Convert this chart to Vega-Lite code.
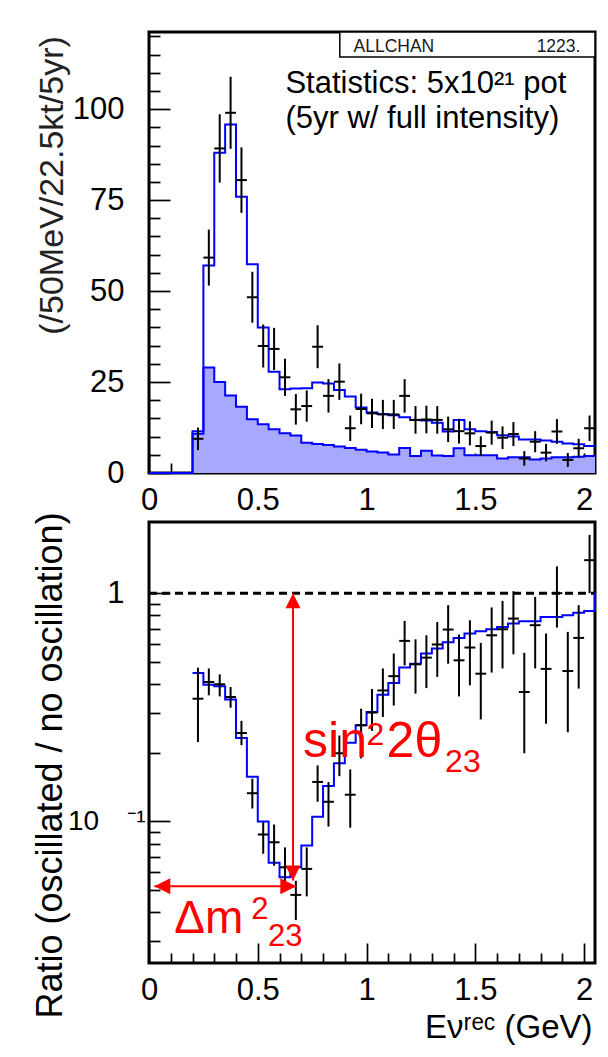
{
  "$schema": "https://vega.github.io/schema/vega-lite/v6.json",
  "background": "white",
  "padding": {"left": 30, "top": 18, "right": 12, "bottom": 5},
  "spacing": 49,
  "bounds": "flush",
  "config": {
    "font": "Liberation Sans",
    "view": {"stroke": "black", "strokeWidth": 3},
    "axis": {"grid": false, "domain": false, "tickColor": "black", "tickWidth": 1.7, "labelFont": "Liberation Sans", "labelFontSize": 31, "labelColor": "black", "labelFlush": false, "labelOverlap": false, "labelBound": false, "titleFont": "Liberation Sans", "titleFontWeight": "normal", "titleColor": "black"},
    "text": {"font": "Liberation Sans"}
  },
  "datasets": {
    "top": [
      {"x0": 0.2, "x1": 0.25, "xc": 0.225, "obs": 9.4, "lo": 6.3, "hi": 12.5},
      {"x0": 0.25, "x1": 0.3, "xc": 0.275, "obs": 59.2, "lo": 51.5, "hi": 66.9},
      {"x0": 0.3, "x1": 0.35, "xc": 0.325, "obs": 89.2, "lo": 79.8, "hi": 98.6},
      {"x0": 0.35, "x1": 0.4, "xc": 0.375, "obs": 99.0, "lo": 89.1, "hi": 108.9},
      {"x0": 0.4, "x1": 0.45, "xc": 0.425, "obs": 80.5, "lo": 71.5, "hi": 89.5},
      {"x0": 0.45, "x1": 0.5, "xc": 0.475, "obs": 48.3, "lo": 41.3, "hi": 55.3},
      {"x0": 0.5, "x1": 0.55, "xc": 0.525, "obs": 34.9, "lo": 29.0, "hi": 40.8},
      {"x0": 0.55, "x1": 0.6, "xc": 0.575, "obs": 34.1, "lo": 28.3, "hi": 39.9},
      {"x0": 0.6, "x1": 0.65, "xc": 0.625, "obs": 26.3, "lo": 21.2, "hi": 31.4},
      {"x0": 0.65, "x1": 0.7, "xc": 0.675, "obs": 17.5, "lo": 13.3, "hi": 21.7},
      {"x0": 0.7, "x1": 0.75, "xc": 0.725, "obs": 18.4, "lo": 14.1, "hi": 22.7},
      {"x0": 0.75, "x1": 0.8, "xc": 0.775, "obs": 34.7, "lo": 28.8, "hi": 40.6},
      {"x0": 0.8, "x1": 0.85, "xc": 0.825, "obs": 21.2, "lo": 16.6, "hi": 25.8},
      {"x0": 0.85, "x1": 0.9, "xc": 0.875, "obs": 25.1, "lo": 20.1, "hi": 30.1},
      {"x0": 0.9, "x1": 0.95, "xc": 0.925, "obs": 12.3, "lo": 8.8, "hi": 15.8},
      {"x0": 0.95, "x1": 1.0, "xc": 0.975, "obs": 17.6, "lo": 13.4, "hi": 21.8},
      {"x0": 1.0, "x1": 1.05, "xc": 1.025, "obs": 16.4, "lo": 12.4, "hi": 20.4},
      {"x0": 1.05, "x1": 1.1, "xc": 1.075, "obs": 16.1, "lo": 12.1, "hi": 20.1},
      {"x0": 1.1, "x1": 1.15, "xc": 1.125, "obs": 16.1, "lo": 12.1, "hi": 20.1},
      {"x0": 1.15, "x1": 1.2, "xc": 1.175, "obs": 21.2, "lo": 16.6, "hi": 25.8},
      {"x0": 1.2, "x1": 1.25, "xc": 1.225, "obs": 14.6, "lo": 10.8, "hi": 18.4},
      {"x0": 1.25, "x1": 1.3, "xc": 1.275, "obs": 14.7, "lo": 10.9, "hi": 18.5},
      {"x0": 1.3, "x1": 1.35, "xc": 1.325, "obs": 14.6, "lo": 10.8, "hi": 18.4},
      {"x0": 1.35, "x1": 1.4, "xc": 1.375, "obs": 12.0, "lo": 8.5, "hi": 15.5},
      {"x0": 1.4, "x1": 1.45, "xc": 1.425, "obs": 11.5, "lo": 8.1, "hi": 14.9},
      {"x0": 1.45, "x1": 1.5, "xc": 1.475, "obs": 10.9, "lo": 7.6, "hi": 14.2},
      {"x0": 1.5, "x1": 1.55, "xc": 1.525, "obs": 7.4, "lo": 4.7, "hi": 10.1},
      {"x0": 1.55, "x1": 1.6, "xc": 1.575, "obs": 11.1, "lo": 7.8, "hi": 14.4},
      {"x0": 1.6, "x1": 1.65, "xc": 1.625, "obs": 9.7, "lo": 6.6, "hi": 12.8},
      {"x0": 1.65, "x1": 1.7, "xc": 1.675, "obs": 10.7, "lo": 7.4, "hi": 14.0},
      {"x0": 1.7, "x1": 1.75, "xc": 1.725, "obs": 4.0, "lo": 2.0, "hi": 6.0},
      {"x0": 1.75, "x1": 1.8, "xc": 1.775, "obs": 8.6, "lo": 5.7, "hi": 11.5},
      {"x0": 1.8, "x1": 1.85, "xc": 1.825, "obs": 5.6, "lo": 3.2, "hi": 8.0},
      {"x0": 1.85, "x1": 1.9, "xc": 1.875, "obs": 11.4, "lo": 8.0, "hi": 14.8},
      {"x0": 1.9, "x1": 1.95, "xc": 1.925, "obs": 3.6, "lo": 1.7, "hi": 5.5},
      {"x0": 1.95, "x1": 2.0, "xc": 1.975, "obs": 6.8, "lo": 4.2, "hi": 9.4},
      {"x0": 2.0, "x1": 2.05, "xc": 2.025, "obs": 12.3, "lo": 8.8, "hi": 15.8}
    ],
    "topstep": [
      {"e": 0, "total": 0, "bg": 0},
      {"e": 0.2, "total": 11.5, "bg": 10.8},
      {"e": 0.25, "total": 57, "bg": 29},
      {"e": 0.3, "total": 88, "bg": 25},
      {"e": 0.35, "total": 95.8, "bg": 21.3},
      {"e": 0.4, "total": 75.9, "bg": 18.2},
      {"e": 0.45, "total": 57.4, "bg": 14.8},
      {"e": 0.5, "total": 40, "bg": 13.4},
      {"e": 0.55, "total": 27.8, "bg": 12},
      {"e": 0.6, "total": 23, "bg": 10.9},
      {"e": 0.65, "total": 23.2, "bg": 10.3},
      {"e": 0.7, "total": 23.3, "bg": 8.3},
      {"e": 0.75, "total": 24.9, "bg": 8},
      {"e": 0.8, "total": 24.6, "bg": 7.7},
      {"e": 0.85, "total": 22.8, "bg": 7.3},
      {"e": 0.9, "total": 21, "bg": 6.9},
      {"e": 0.95, "total": 18, "bg": 6.4},
      {"e": 1.0, "total": 16.6, "bg": 5.9},
      {"e": 1.05, "total": 16.2, "bg": 5.6},
      {"e": 1.1, "total": 15.9, "bg": 5.1},
      {"e": 1.15, "total": 15.3, "bg": 6.9},
      {"e": 1.2, "total": 14.6, "bg": 4.7},
      {"e": 1.25, "total": 14.4, "bg": 6.1},
      {"e": 1.3, "total": 13.8, "bg": 4.8},
      {"e": 1.35, "total": 11.4, "bg": 4.7},
      {"e": 1.4, "total": 14.6, "bg": 6.8},
      {"e": 1.45, "total": 12, "bg": 4.9},
      {"e": 1.5, "total": 11.5, "bg": 4.9},
      {"e": 1.55, "total": 11.3, "bg": 4.9},
      {"e": 1.6, "total": 10.4, "bg": 4},
      {"e": 1.65, "total": 10, "bg": 4.3},
      {"e": 1.7, "total": 9.2, "bg": 4.3},
      {"e": 1.75, "total": 9.2, "bg": 3.7},
      {"e": 1.8, "total": 8.9, "bg": 4},
      {"e": 1.85, "total": 8.6, "bg": 4.3},
      {"e": 1.9, "total": 8.1, "bg": 4.3},
      {"e": 1.95, "total": 7.9, "bg": 4.5},
      {"e": 2.0, "total": 7.4, "bg": 4.7},
      {"e": 2.05, "total": 7.4, "bg": 4.7}
    ],
    "ratio": [
      {"x0": 0.2, "x1": 0.25, "xc": 0.225, "obs": 0.345, "lo": 0.223, "hi": 0.472},
      {"x0": 0.25, "x1": 0.3, "xc": 0.275, "obs": 0.408, "lo": 0.357, "hi": 0.468},
      {"x0": 0.3, "x1": 0.35, "xc": 0.325, "obs": 0.399, "lo": 0.353, "hi": 0.441},
      {"x0": 0.35, "x1": 0.4, "xc": 0.375, "obs": 0.351, "lo": 0.315, "hi": 0.388},
      {"x0": 0.4, "x1": 0.45, "xc": 0.425, "obs": 0.244, "lo": 0.216, "hi": 0.276},
      {"x0": 0.45, "x1": 0.5, "xc": 0.475, "obs": 0.133, "lo": 0.114, "hi": 0.154},
      {"x0": 0.5, "x1": 0.55, "xc": 0.525, "obs": 0.0877, "lo": 0.0722, "hi": 0.0993},
      {"x0": 0.55, "x1": 0.6, "xc": 0.575, "obs": 0.0811, "lo": 0.064, "hi": 0.097},
      {"x0": 0.6, "x1": 0.65, "xc": 0.625, "obs": 0.063, "lo": 0.052, "hi": 0.077},
      {"x0": 0.65, "x1": 0.7, "xc": 0.675, "obs": 0.0477, "lo": 0.037, "hi": 0.055},
      {"x0": 0.7, "x1": 0.75, "xc": 0.725, "obs": 0.062, "lo": 0.047, "hi": 0.077},
      {"x0": 0.75, "x1": 0.8, "xc": 0.775, "obs": 0.149, "lo": 0.122, "hi": 0.176},
      {"x0": 0.8, "x1": 0.85, "xc": 0.825, "obs": 0.122, "lo": 0.095, "hi": 0.149},
      {"x0": 0.85, "x1": 0.9, "xc": 0.875, "obs": 0.199, "lo": 0.158, "hi": 0.238},
      {"x0": 0.9, "x1": 0.95, "xc": 0.925, "obs": 0.131, "lo": 0.094, "hi": 0.169},
      {"x0": 0.95, "x1": 1.0, "xc": 0.975, "obs": 0.264, "lo": 0.189, "hi": 0.312},
      {"x0": 1.0, "x1": 1.05, "xc": 1.025, "obs": 0.3, "lo": 0.25, "hi": 0.38},
      {"x0": 1.05, "x1": 1.1, "xc": 1.075, "obs": 0.375, "lo": 0.287, "hi": 0.468},
      {"x0": 1.1, "x1": 1.15, "xc": 1.125, "obs": 0.433, "lo": 0.322, "hi": 0.544},
      {"x0": 1.15, "x1": 1.2, "xc": 1.175, "obs": 0.618, "lo": 0.483, "hi": 0.756},
      {"x0": 1.2, "x1": 1.25, "xc": 1.225, "obs": 0.488, "lo": 0.363, "hi": 0.628},
      {"x0": 1.25, "x1": 1.3, "xc": 1.275, "obs": 0.522, "lo": 0.384, "hi": 0.654},
      {"x0": 1.3, "x1": 1.35, "xc": 1.325, "obs": 0.596, "lo": 0.43, "hi": 0.748},
      {"x0": 1.35, "x1": 1.4, "xc": 1.375, "obs": 0.693, "lo": 0.491, "hi": 0.886},
      {"x0": 1.4, "x1": 1.45, "xc": 1.425, "obs": 0.508, "lo": 0.353, "hi": 0.659},
      {"x0": 1.45, "x1": 1.5, "xc": 1.475, "obs": 0.578, "lo": 0.395, "hi": 0.761},
      {"x0": 1.5, "x1": 1.55, "xc": 1.525, "obs": 0.444, "lo": 0.28, "hi": 0.606},
      {"x0": 1.55, "x1": 1.6, "xc": 1.575, "obs": 0.654, "lo": 0.449, "hi": 0.866},
      {"x0": 1.6, "x1": 1.65, "xc": 1.625, "obs": 0.695, "lo": 0.468, "hi": 0.925},
      {"x0": 1.65, "x1": 1.7, "xc": 1.675, "obs": 0.774, "lo": 0.54, "hi": 1.02},
      {"x0": 1.7, "x1": 1.75, "xc": 1.725, "obs": 0.369, "lo": 0.199, "hi": 0.548},
      {"x0": 1.75, "x1": 1.8, "xc": 1.775, "obs": 0.724, "lo": 0.468, "hi": 0.963},
      {"x0": 1.8, "x1": 1.85, "xc": 1.825, "obs": 0.466, "lo": 0.268, "hi": 0.666},
      {"x0": 1.85, "x1": 1.9, "xc": 1.875, "obs": 1.0, "lo": 0.707, "hi": 1.31},
      {"x0": 1.9, "x1": 1.95, "xc": 1.925, "obs": 0.456, "lo": 0.246, "hi": 0.677},
      {"x0": 1.95, "x1": 2.0, "xc": 1.975, "obs": 0.637, "lo": 0.382, "hi": 0.886},
      {"x0": 2.0, "x1": 2.05, "xc": 2.025, "obs": 1.395, "lo": 1.0, "hi": 1.8}
    ],
    "ratiostep": [
      {"e": 0.2, "r": 0.447}, {"e": 0.25, "r": 0.397}, {"e": 0.3, "r": 0.391}, {"e": 0.35, "r": 0.342},
      {"e": 0.4, "r": 0.232}, {"e": 0.45, "r": 0.157}, {"e": 0.5, "r": 0.1}, {"e": 0.55, "r": 0.066},
      {"e": 0.6, "r": 0.057}, {"e": 0.65, "r": 0.063}, {"e": 0.7, "r": 0.0785}, {"e": 0.75, "r": 0.105},
      {"e": 0.8, "r": 0.143}, {"e": 0.85, "r": 0.18}, {"e": 0.9, "r": 0.221}, {"e": 0.95, "r": 0.264},
      {"e": 1.0, "r": 0.302}, {"e": 1.05, "r": 0.359}, {"e": 1.1, "r": 0.404}, {"e": 1.15, "r": 0.472},
      {"e": 1.2, "r": 0.491}, {"e": 1.25, "r": 0.544}, {"e": 1.3, "r": 0.572}, {"e": 1.35, "r": 0.61},
      {"e": 1.4, "r": 0.637}, {"e": 1.45, "r": 0.666}, {"e": 1.5, "r": 0.681}, {"e": 1.55, "r": 0.695},
      {"e": 1.6, "r": 0.711}, {"e": 1.65, "r": 0.736}, {"e": 1.7, "r": 0.754}, {"e": 1.75, "r": 0.754},
      {"e": 1.8, "r": 0.787}, {"e": 1.85, "r": 0.787}, {"e": 1.9, "r": 0.8}, {"e": 1.95, "r": 0.82},
      {"e": 2.0, "r": 0.836}, {"e": 2.05, "r": 1.0}
    ]
  },
  "vconcat": [
    {
      "width": 446,
      "height": 441,
      "layer": [
        {
          "data": {"name": "topstep"},
          "mark": {"type": "area", "interpolate": "step-after", "color": "#a8a8ff"},
          "encoding": {
            "x": {"field": "e", "type": "quantitative", "scale": {"domain": [0, 2.05], "nice": false, "zero": false},
              "axis": {"values": [0,0.1,0.2,0.3,0.4,0.5,0.6,0.7,0.8,0.9,1,1.1,1.2,1.3,1.4,1.5,1.6,1.7,1.8,1.9,2],
                "tickCount": 500,
                "tickSize": {"condition": {"test": "abs(datum.value*2-round(datum.value*2))<0.001", "value": -20}, "value": -10},
                "labelExpr": "abs(datum.value*2-round(datum.value*2))<0.001 ? format(datum.value,'~g') : ''",
                "labelOverlap": false, "labelFlush": false,
                "labelPadding": 47, "labelBaseline": "middle", "title": ""}},
            "y": {"field": "bg", "type": "quantitative", "scale": {"domain": [0, 121.2], "nice": false, "zero": false},
              "axis": {"values": [0,5,10,15,20,25,30,35,40,45,50,55,60,65,70,75,80,85,90,95,100,105,110,115,120],
                "tickCount": 500,
                "tickSize": {"condition": {"test": "datum.value % 25 === 0", "value": -21}, "value": -11},
                "labelExpr": "datum.value % 25 === 0 ? format(datum.value,'d') : ''",
                "labelOverlap": false, "labelFlush": false,
                "labelPadding": 46,
                "title": "(/50MeV/22.5kt/5yr)", "titleFontSize": 34, "titleColor": "#222222", "titleX": -97, "titleY": 153, "titleAngle": -90, "titleAlign": "center", "titleBaseline": "middle"}}
          }
        },
        {
          "data": {"name": "topstep"},
          "mark": {"type": "line", "interpolate": "step-after", "color": "#0000ff", "strokeWidth": 2},
          "encoding": {"x": {"field": "e", "type": "quantitative"}, "y": {"field": "bg", "type": "quantitative"}}
        },
        {
          "data": {"name": "topstep"},
          "mark": {"type": "line", "interpolate": "step-after", "color": "#0000ff", "strokeWidth": 2},
          "encoding": {"x": {"field": "e", "type": "quantitative"}, "y": {"field": "total", "type": "quantitative"}}
        },
        {
          "data": {"name": "top"},
          "mark": {"type": "rule", "color": "black", "strokeWidth": 2},
          "encoding": {"x": {"field": "x0", "type": "quantitative"}, "x2": {"field": "x1"}, "y": {"field": "obs", "type": "quantitative"}}
        },
        {
          "data": {"name": "top"},
          "mark": {"type": "rule", "color": "black", "strokeWidth": 2},
          "encoding": {"x": {"field": "xc", "type": "quantitative"}, "y": {"field": "lo", "type": "quantitative"}, "y2": {"field": "hi"}}
        },
        {
          "data": {"values": [{}]},
          "mark": {"type": "rect", "fill": "white", "stroke": "black", "strokeWidth": 1.5},
          "encoding": {"x": {"datum": 0.877}, "x2": {"datum": 2.05}, "y": {"datum": 114.3}, "y2": {"datum": 121.2}}
        },
        {
          "data": {"values": [{}]},
          "mark": {"type": "text", "text": "ALLCHAN", "align": "left", "baseline": "alphabetic", "fontSize": 17.5, "color": "#1a1a1a"},
          "encoding": {"x": {"datum": 0.94}, "y": {"datum": 115.7}}
        },
        {
          "data": {"values": [{}]},
          "mark": {"type": "text", "text": "1223.", "align": "right", "baseline": "alphabetic", "fontSize": 17.5, "color": "#1a1a1a"},
          "encoding": {"x": {"datum": 1.983}, "y": {"datum": 115.7}}
        },
        {
          "data": {"values": [{}]},
          "mark": {"type": "text", "text": "Statistics: 5x10²¹ pot", "align": "left", "baseline": "alphabetic", "fontSize": 31, "color": "black"},
          "encoding": {"x": {"datum": 0.627}, "y": {"datum": 104.5}}
        },
        {
          "data": {"values": [{}]},
          "mark": {"type": "text", "text": "(5yr w/ full intensity)", "align": "left", "baseline": "alphabetic", "fontSize": 31, "color": "black"},
          "encoding": {"x": {"datum": 0.627}, "y": {"datum": 94.7}}
        }
      ]
    },
    {
      "width": 446,
      "height": 441,
      "layer": [
        {
          "data": {"values": [{}]},
          "mark": {"type": "rule", "color": "black", "strokeWidth": 3, "strokeDash": [8, 5]},
          "encoding": {
            "x": {"datum": 0, "type": "quantitative", "scale": {"domain": [0, 2.05], "nice": false, "zero": false},
              "axis": {"values": [0,0.1,0.2,0.3,0.4,0.5,0.6,0.7,0.8,0.9,1,1.1,1.2,1.3,1.4,1.5,1.6,1.7,1.8,1.9,2],
                "tickCount": 500,
                "tickSize": {"condition": {"test": "abs(datum.value*2-round(datum.value*2))<0.001", "value": -20}, "value": -10},
                "labelExpr": "abs(datum.value*2-round(datum.value*2))<0.001 ? format(datum.value,'~g') : ''",
                "labelOverlap": false, "labelFlush": false,
                "labelPadding": 47, "labelBaseline": "middle",
                "title": "Eνʳᵉᶜ (GeV)", "titleFontSize": 33, "titleAnchor": "end", "titleAlign": "right", "titleX": 443, "titleY": 74, "titleBaseline": "alphabetic"}},
            "x2": {"datum": 2.05},
            "y": {"datum": 1, "type": "quantitative", "scale": {"type": "log", "domain": [0.024, 2.05], "nice": false},
              "axis": {"values": [0.03,0.04,0.05,0.06,0.07,0.08,0.09,0.1,0.2,0.3,0.4,0.5,0.6,0.7,0.8,0.9,1],
                "tickCount": 500,
                "tickSize": {"condition": {"test": "abs(log(datum.value)/LN10-round(log(datum.value)/LN10))<0.001", "value": -21}, "value": -11},
                "labelExpr": "abs(datum.value-1)<0.001 ? '1' : (abs(datum.value-0.1)<0.0001 ? '10\u2003⁻¹' : '')",
                "labelPadding": {"condition": {"test": "abs(datum.value-0.1)<0.0001", "value": 25}, "value": 46},
                "labelFontSize": {"condition": {"test": "abs(datum.value-0.1)<0.0001", "value": 28}, "value": 31},
                "labelOverlap": false, "labelFlush": false,
                "title": "Ratio (oscillated / no oscillation)", "titleFontSize": 36, "titleX": -99, "titleY": 243, "titleAngle": -90, "titleAlign": "center", "titleBaseline": "middle"}}
          }
        },
        {
          "data": {"name": "ratiostep"},
          "mark": {"type": "line", "interpolate": "step-after", "color": "#0000ff", "strokeWidth": 2},
          "encoding": {"x": {"field": "e", "type": "quantitative"}, "y": {"field": "r", "type": "quantitative"}}
        },
        {
          "data": {"name": "ratio"},
          "mark": {"type": "rule", "color": "black", "strokeWidth": 2},
          "encoding": {"x": {"field": "x0", "type": "quantitative"}, "x2": {"field": "x1"}, "y": {"field": "obs", "type": "quantitative"}}
        },
        {
          "data": {"name": "ratio"},
          "mark": {"type": "rule", "color": "black", "strokeWidth": 2},
          "encoding": {"x": {"field": "xc", "type": "quantitative"}, "y": {"field": "lo", "type": "quantitative"}, "y2": {"field": "hi"}}
        },
        {
          "data": {"values": [{}]},
          "mark": {"type": "rule", "color": "#ff0000", "strokeWidth": 2},
          "encoding": {"x": {"datum": 0.662}, "y": {"datum": 1}, "y2": {"datum": 0.0551}}
        },
        {
          "data": {"values": [{}]},
          "mark": {"type": "rule", "color": "#ff0000", "strokeWidth": 2},
          "encoding": {"x": {"datum": 0.0245}, "x2": {"datum": 0.677}, "y": {"datum": 0.052}}
        },
        {
          "data": {"values": [{}]},
          "mark": {"type": "point", "shape": "M0,0L-0.5,1L0.5,1Z", "size": 900, "filled": true, "color": "#ff0000", "opacity": 1},
          "encoding": {"x": {"datum": 0.662}, "y": {"datum": 1}}
        },
        {
          "data": {"values": [{}]},
          "mark": {"type": "point", "shape": "M0,0L-0.5,-1L0.5,-1Z", "size": 900, "filled": true, "color": "#ff0000", "opacity": 1},
          "encoding": {"x": {"datum": 0.662}, "y": {"datum": 0.0551}}
        },
        {
          "data": {"values": [{}]},
          "mark": {"type": "point", "shape": "M0,0L1,-0.5L1,0.5Z", "size": 1024, "filled": true, "color": "#ff0000", "opacity": 1},
          "encoding": {"x": {"datum": 0.0245}, "y": {"datum": 0.052}}
        },
        {
          "data": {"values": [{}]},
          "mark": {"type": "point", "shape": "M0,0L-1,-0.5L-1,0.5Z", "size": 1024, "filled": true, "color": "#ff0000", "opacity": 1},
          "encoding": {"x": {"datum": 0.677}, "y": {"datum": 0.052}}
        },
        {
          "data": {"values": [{}]},
          "mark": {"type": "text", "text": "sin", "align": "left", "baseline": "alphabetic", "fontSize": 50, "color": "#ff0000"},
          "encoding": {"x": {"datum": 0.708}, "y": {"datum": 0.1914}}
        },
        {
          "data": {"values": [{}]},
          "mark": {"type": "text", "text": "2", "align": "left", "baseline": "alphabetic", "fontSize": 32, "color": "#ff0000"},
          "encoding": {"x": {"datum": 1.0}, "y": {"datum": 0.2155}}
        },
        {
          "data": {"values": [{}]},
          "mark": {"type": "text", "text": "2θ", "align": "left", "baseline": "alphabetic", "fontSize": 50, "color": "#ff0000"},
          "encoding": {"x": {"datum": 1.092}, "y": {"datum": 0.1914}}
        },
        {
          "data": {"values": [{}]},
          "mark": {"type": "text", "text": "23", "align": "left", "baseline": "alphabetic", "fontSize": 32, "color": "#ff0000"},
          "encoding": {"x": {"datum": 1.361}, "y": {"datum": 0.1645}}
        },
        {
          "data": {"values": [{}]},
          "mark": {"type": "text", "text": "Δm", "align": "left", "baseline": "alphabetic", "fontSize": 46, "color": "#ff0000"},
          "encoding": {"x": {"datum": 0.1166}, "y": {"datum": 0.03236}}
        },
        {
          "data": {"values": [{}]},
          "mark": {"type": "text", "text": "2", "align": "left", "baseline": "alphabetic", "fontSize": 31, "color": "#ff0000"},
          "encoding": {"x": {"datum": 0.47}, "y": {"datum": 0.03755}}
        },
        {
          "data": {"values": [{}]},
          "mark": {"type": "text", "text": "23", "align": "left", "baseline": "alphabetic", "fontSize": 31, "color": "#ff0000"},
          "encoding": {"x": {"datum": 0.547}, "y": {"datum": 0.02858}}
        }
      ]
    }
  ]
}
